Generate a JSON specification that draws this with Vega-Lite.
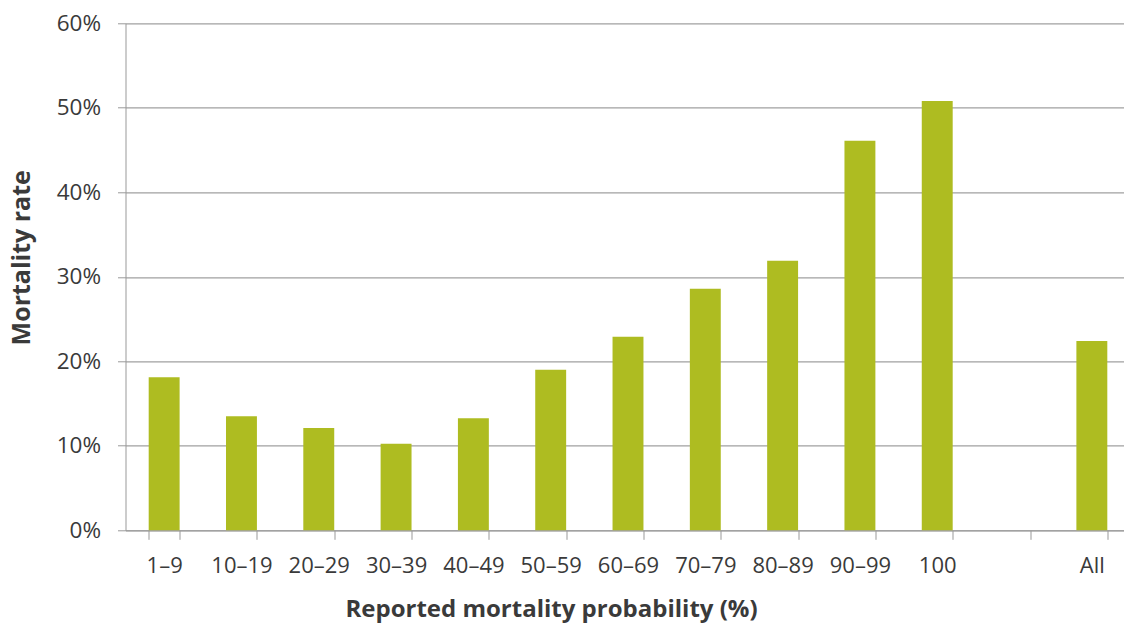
{
  "$schema": "https://vega.github.io/schema/vega-lite/v6.json",
  "width": 998,
  "height": 507,
  "autosize": "none",
  "padding": {"left": 125.5, "top": 23.3, "right": 0, "bottom": 92.7},
  "background": "white",
  "config": {"view": {"stroke": null}, "font": "Open Sans"},
  "data": {
    "values": [
      {"category": "1–9", "rate": 0.181},
      {"category": "10–19", "rate": 0.135},
      {"category": "20–29", "rate": 0.121},
      {"category": "30–39", "rate": 0.1025},
      {"category": "40–49", "rate": 0.1325},
      {"category": "50–59", "rate": 0.190},
      {"category": "60–69", "rate": 0.229},
      {"category": "70–79", "rate": 0.286},
      {"category": "80–89", "rate": 0.319},
      {"category": "90–99", "rate": 0.461},
      {"category": "100", "rate": 0.508},
      {"category": "All", "rate": 0.224}
    ]
  },
  "mark": {"type": "bar", "color": "#AEBC21"},
  "encoding": {
    "x": {
      "field": "category",
      "type": "nominal",
      "sort": null,
      "scale": {
        "domain": ["1–9", "10–19", "20–29", "30–39", "40–49", "50–59", "60–69", "70–79", "80–89", "90–99", "100", "gap", "All"],
        "range": [0, 1005],
        "paddingInner": 0.6,
        "paddingOuter": 0.3
      },
      "axis": {
        "title": "Reported mortality probability (%)",
        "titleFont": "Open Sans",
        "titleFontSize": 24,
        "titleFontWeight": "bold",
        "titleColor": "#3a3a3a",
        "titleX": 425.5,
        "titleY": 86.5,
        "titleAnchor": null,
        "titleAlign": "center",
        "titleBaseline": "alphabetic",
        "labelExpr": "datum.value == 'gap' ? '' : datum.value",
        "labelFont": "Open Sans",
        "labelFontSize": 22,
        "labelColor": "#3a3a3a",
        "labelAngle": 0,
        "labelPadding": 16,
        "tickBand": "extent",
        "tickSize": 9,
        "tickColor": "#999999",
        "domainColor": "#999999",
        "grid": false
      }
    },
    "y": {
      "field": "rate",
      "type": "quantitative",
      "scale": {"domain": [0, 0.6], "nice": false},
      "axis": {
        "title": "Mortality rate",
        "titleFont": "Open Sans",
        "titleFontSize": 25,
        "titleFontWeight": "bold",
        "titleColor": "#3a3a3a",
        "titleAngle": -90,
        "titleX": -104.5,
        "titleY": 234,
        "titleAnchor": null,
        "titleAlign": "center",
        "titleBaseline": "middle",
        "values": [0, 0.1, 0.2, 0.3, 0.4, 0.5, 0.6],
        "format": ".0%",
        "labelFont": "Open Sans",
        "labelFontSize": 22.5,
        "labelColor": "#3a3a3a",
        "labelPadding": 17,
        "tickSize": 8,
        "tickColor": "#999999",
        "domainColor": "#999999",
        "grid": true,
        "gridColor": "#a0a0a0",
        "gridWidth": 1.2
      }
    }
  }
}
